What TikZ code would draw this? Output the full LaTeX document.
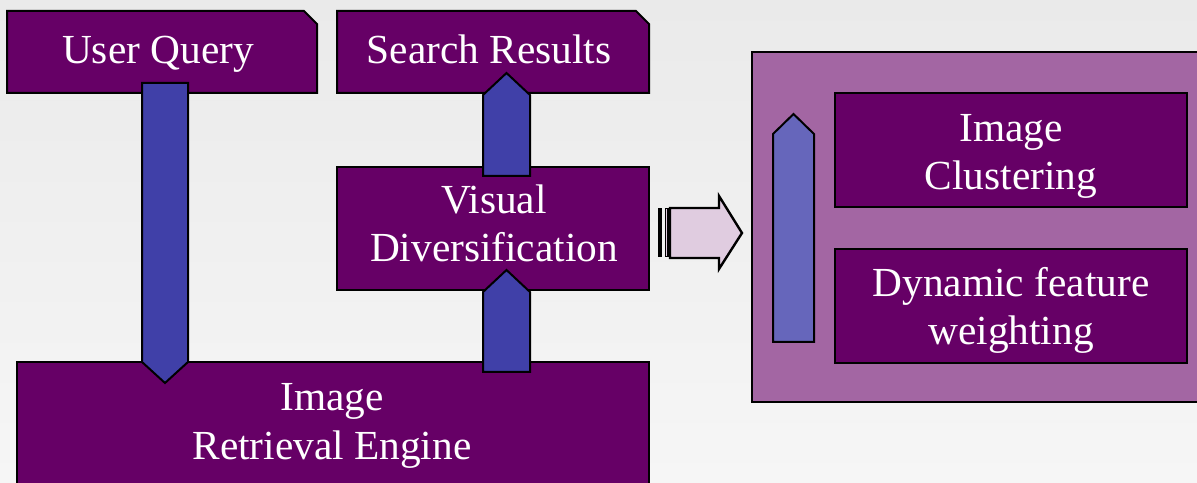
\documentclass[tikz,border=0pt]{standalone}
\usepackage{fontspec}
\setmainfont{Liberation Serif}
\definecolor{plum}{RGB}{102,0,102}
\definecolor{panelmauve}{RGB}{163,102,163}
\definecolor{arrowblue}{RGB}{64,64,168}
\definecolor{softblue}{RGB}{102,102,187}
\definecolor{lavender}{RGB}{224,204,224}
\definecolor{bgtop}{RGB}{234,234,234}
\definecolor{bgbot}{RGB}{246,246,246}
\begin{document}
\begin{tikzpicture}[x=1bp,y=-1bp,
  box/.style={draw=black, line width=2bp, fill=plum},
  panel/.style={draw=black, line width=2bp, fill=panelmauve},
  blockarrow/.style={draw=black, line width=2bp, fill=arrowblue, line join=miter},
  label/.style={text=white, font=\fontsize{41.5}{49}\selectfont, align=center, inner sep=0pt}]
  % page and background
  \path[use as bounding box, top color=bgtop, bottom color=bgbot] (0,0) rectangle (1197,483);
  \clip (0,0) rectangle (1197,483);

  % input / output boxes with a cut corner
  \draw[box] (7,11) -- (304,11) -- (317,24) -- (317,93) -- (7,93) -- cycle;
  \draw[box] (337,11) -- (636,11) -- (649,24) -- (649,93) -- (337,93) -- cycle;
  % processing boxes
  \draw[box] (337,167) rectangle (649,290);
  \draw[box] (17,362) rectangle (649,520);

  % detail panel
  \draw[panel] (752,52) rectangle (1210,402);
  \draw[box] (835,93) rectangle (1187,207);
  \draw[box] (835,249) rectangle (1187,363);

  % flow arrows
  \draw[blockarrow] (142,83) -- (188,83) -- (188,362) -- (165,383) -- (142,362) -- cycle;
  \draw[blockarrow] (483,372) -- (530,372) -- (530,292) -- (506.5,270) -- (483,292) -- cycle;
  \draw[blockarrow] (483,176) -- (530,176) -- (530,95) -- (506.5,73) -- (483,95) -- cycle;
  \draw[blockarrow, fill=softblue] (773,342) -- (814,342) -- (814,134) -- (793.5,114) -- (773,134) -- cycle;

  % striped arrow pointing to the panel
  \fill[black] (658,208) rectangle (662,257);
  \draw[line width=1.6bp, fill=lavender] (665.5,208.5) rectangle (668,256.5);
  \draw[line width=2.4bp, fill=lavender, line join=miter]
    (670,208) -- (719,208) -- (719,196) -- (742,233) -- (719,269) -- (719,258) -- (670,258) -- cycle;

  % labels (base anchor sits on the last line)
  \node[label, anchor=base] (uq)  at (158,64)   {User Query};
  \node[label, anchor=base] (sr)  at (489,64)   {Search Results};
  \node[label, anchor=base] (vd)  at (494,262)  {Visual\\Diversification};
  \node[label, anchor=base] (ire) at (332,459)  {Image\\Retrieval Engine};
  \node[label, anchor=base] (ic)  at (1011,190) {Image\\Clustering};
  \node[label, anchor=base] (dfw) at (1011,345) {Dynamic feature\\weighting};
\end{tikzpicture}
\end{document}
